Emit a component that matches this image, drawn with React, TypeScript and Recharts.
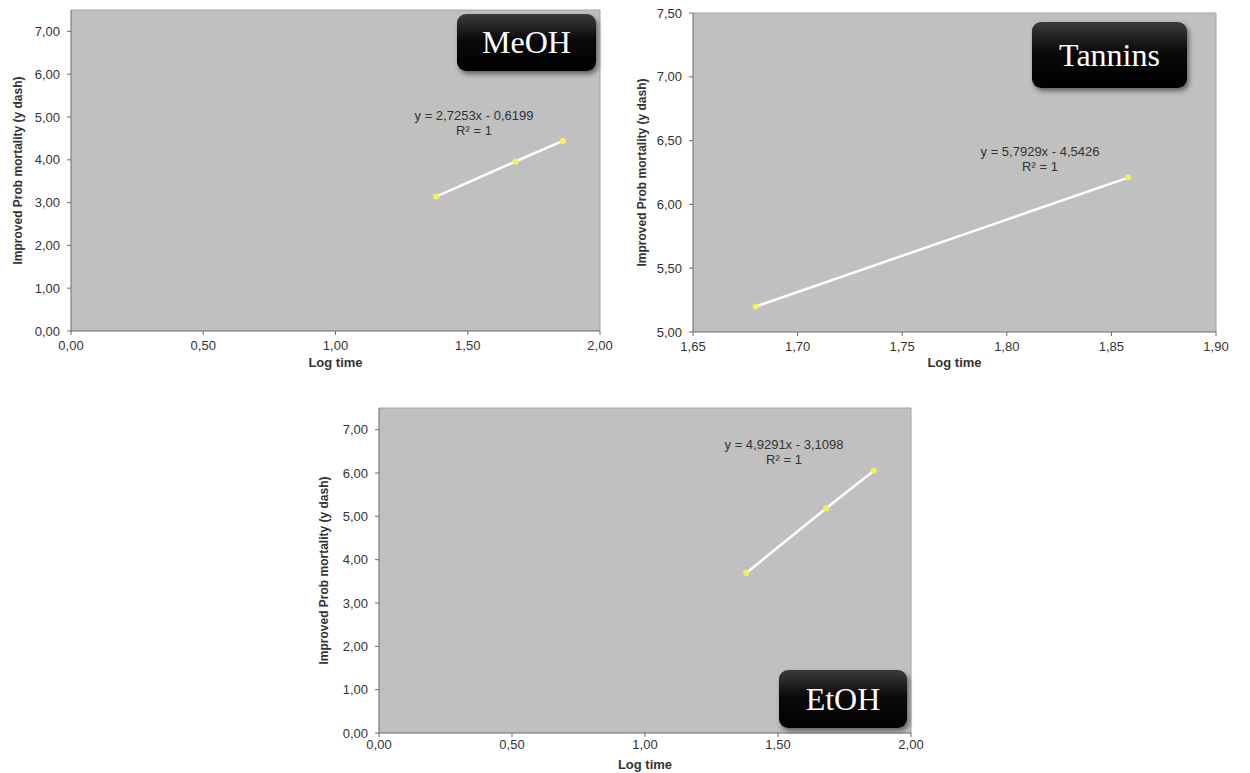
import { ScatterChart, Scatter, XAxis, YAxis, CartesianGrid, ReferenceLine, Label } from 'recharts';

// log time (log10 of 24, 48, 72 h) and improved probit mortality
const meohLogTime = [1.38, 1.68, 1.86];
const meohProbit = [3.14, 3.96, 4.44];
const tanninsLogTime = [1.68, 1.858];
const tanninsProbit = [5.2, 6.21];
const etohLogTime = [1.38, 1.68, 1.86];
const etohProbit = [3.69, 5.18, 6.05];

const wideXTicks = [0, 0.5, 1, 1.5, 2];
const wideYTicks = [0, 1, 2, 3, 4, 5, 6, 7];
const tanninsXTicks = [1.65, 1.7, 1.75, 1.8, 1.85, 1.9];
const tanninsYTicks = [5, 5.5, 6, 6.5, 7, 7.5];

const FONT = '"Liberation Sans", Arial, sans-serif';
const TEXT = '#333333';
const fmt = (v: number) => v.toFixed(2).replace('.', ',');

const toPoints = (xs: number[], ys: number[]) => xs.map((x, i) => ({ x, y: ys[i] }));

const Dot = (props: any) => <circle cx={props.cx} cy={props.cy} r={3} fill="#f2f25a" />;

interface PanelProps {
  left: number;
  top: number;
  width: number;
  height: number;
  margin: { top: number; right: number; bottom: number; left: number };
  yAxisWidth: number;
  xAxisHeight: number;
  xDomain: [number, number];
  yDomain: [number, number];
  xTicks: number[];
  yTicks: number[];
  xs: number[];
  ys: number[];
  yTitleX: number;
  xTitleY: number;
  xTickMargin: number;
  badge: string;
  badgeBox: { left: number; top: number; width: number; height: number };
  equation: string;
  eqX: number;
  eqY: number;
}

function Panel(p: PanelProps) {
  const data = toPoints(p.xs, p.ys);
  return (
    <div style={{ position: 'absolute', left: p.left, top: p.top, width: p.width, height: p.height }}>
      <ScatterChart width={p.width} height={p.height} margin={p.margin}>
        <CartesianGrid fill="#c0c0c0" fillOpacity={1} horizontal={false} vertical={false} />
        <XAxis
          type="number"
          dataKey="x"
          domain={p.xDomain}
          ticks={p.xTicks}
          allowDataOverflow
          height={p.xAxisHeight}
          tickFormatter={fmt}
          stroke="#6a6a6a"
          tickSize={4}
          tickMargin={p.xTickMargin}
          tick={{ fill: TEXT, fontSize: 13, fontFamily: FONT }}
        >
          <Label
            content={(lp: any) => {
              const vb = lp.viewBox;
              return (
                <text x={vb.x + vb.width / 2} y={p.xTitleY} textAnchor="middle" dominantBaseline="central"
                  fill={TEXT} fontSize={13} fontWeight="bold" fontFamily={FONT}>
                  Log time
                </text>
              );
            }}
          />
        </XAxis>
        <YAxis
          type="number"
          dataKey="y"
          domain={p.yDomain}
          ticks={p.yTicks}
          allowDataOverflow
          width={p.yAxisWidth}
          tickFormatter={fmt}
          stroke="#6a6a6a"
          tickSize={4}
          tickMargin={7}
          tick={{ fill: TEXT, fontSize: 13, fontFamily: FONT }}
        >
          <Label
            content={(lp: any) => {
              const vb = lp.viewBox;
              const cy = vb.y + vb.height / 2;
              return (
                <text x={p.yTitleX} y={cy} transform={`rotate(-90 ${p.yTitleX} ${cy})`} textAnchor="middle"
                  dominantBaseline="central" fill={TEXT} fontSize={12} fontWeight="bold" fontFamily={FONT}>
                  Improved Prob mortality (y dash)
                </text>
              );
            }}
          />
        </YAxis>
        <ReferenceLine y={p.yDomain[1]} stroke="#a4a4a4" strokeWidth={1} />
        <ReferenceLine x={p.xDomain[1]} stroke="#a4a4a4" strokeWidth={1} />
        <Scatter
          data={data}
          line={{ stroke: '#ffffff', strokeWidth: 2.5 }}
          shape={Dot}
          isAnimationActive={false}
        />
      </ScatterChart>
      <div
        style={{
          position: 'absolute',
          left: p.eqX,
          top: p.eqY,
          transform: 'translate(-50%, -50%)',
          textAlign: 'center',
          fontFamily: FONT,
          fontSize: 13,
          lineHeight: '15px',
          color: TEXT,
          whiteSpace: 'nowrap',
        }}
      >
        {p.equation}
        <br />
        R² = 1
      </div>
      <div
        style={{
          position: 'absolute',
          ...p.badgeBox,
          borderRadius: 9,
          background: 'linear-gradient(#3c3c3c 0%, #0a0a0a 45%, #000 100%)',
          boxShadow: '2px 3px 5px rgba(0,0,0,0.5)',
          color: '#fff',
          fontFamily: '"Liberation Serif", "Times New Roman", serif',
          fontSize: 32,
          display: 'flex',
          alignItems: 'center',
          justifyContent: 'center',
        }}
      >
        {p.badge}
      </div>
    </div>
  );
}

export default function App() {
  return (
    <div style={{ position: 'absolute', left: 0, top: 0, width: 1250, height: 773, background: '#fff' }}>
      <Panel
        left={0}
        top={0}
        width={620}
        height={380}
        margin={{ top: 10, right: 20, bottom: 0, left: 0 }}
        yAxisWidth={71}
        xAxisHeight={49}
        xDomain={[0, 2]}
        yDomain={[0, 7.5]}
        xTicks={wideXTicks}
        yTicks={wideYTicks}
        xs={meohLogTime}
        ys={meohProbit}
        yTitleX={18}
        xTitleY={362}
        xTickMargin={6}
        badge="MeOH"
        badgeBox={{ left: 457, top: 14, width: 139, height: 57 }}
        equation="y = 2,7253x - 0,6199"
        eqX={474}
        eqY={123}
      />
      <Panel
        left={620}
        top={0}
        width={630}
        height={380}
        margin={{ top: 13, right: 34, bottom: 0, left: 0 }}
        yAxisWidth={73}
        xAxisHeight={48}
        xDomain={[1.65, 1.9]}
        yDomain={[5, 7.5]}
        xTicks={tanninsXTicks}
        yTicks={tanninsYTicks}
        xs={tanninsLogTime}
        ys={tanninsProbit}
        yTitleX={22}
        xTitleY={362}
        xTickMargin={6}
        badge="Tannins"
        badgeBox={{ left: 412, top: 22, width: 155, height: 66 }}
        equation="y = 5,7929x - 4,5426"
        eqX={420}
        eqY={159}
      />
      <Panel
        left={300}
        top={395}
        width={630}
        height={378}
        margin={{ top: 13, right: 19, bottom: 0, left: 0 }}
        yAxisWidth={79}
        xAxisHeight={40}
        xDomain={[0, 2]}
        yDomain={[0, 7.5]}
        xTicks={wideXTicks}
        yTicks={wideYTicks}
        xs={etohLogTime}
        ys={etohProbit}
        yTitleX={24}
        xTitleY={369}
        xTickMargin={3}
        badge="EtOH"
        badgeBox={{ left: 479, top: 275, width: 128, height: 58 }}
        equation="y = 4,9291x - 3,1098"
        eqX={484}
        eqY={57}
      />
    </div>
  );
}
